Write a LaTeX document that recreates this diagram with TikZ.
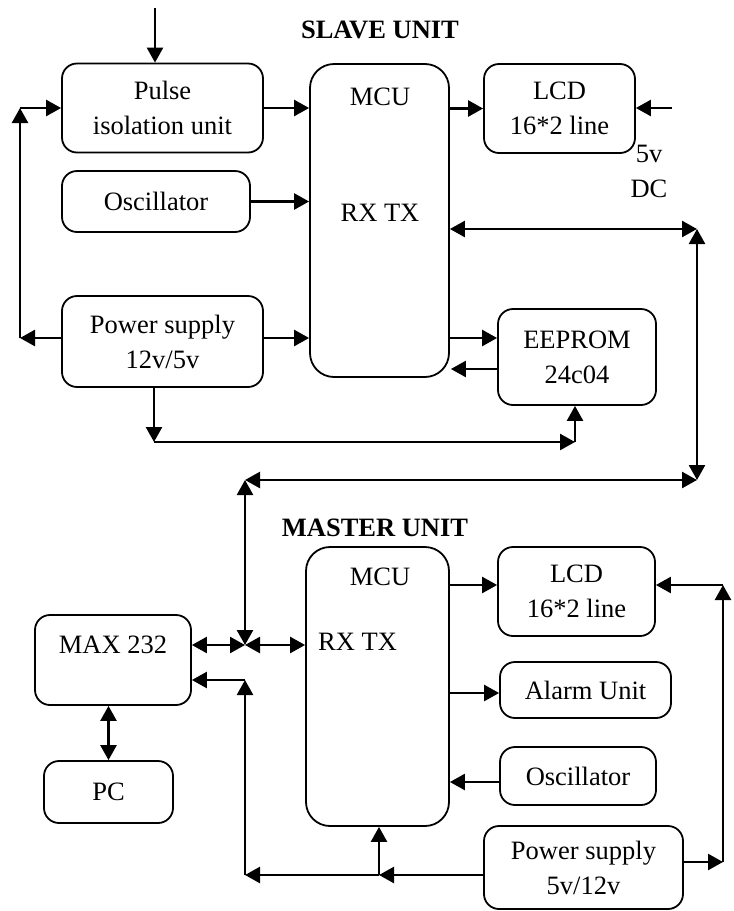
\documentclass[tikz,border=0pt]{standalone}
\usepackage{fontspec}
\setmainfont{Liberation Serif}
\usetikzlibrary{arrows.meta,calc}
\begin{document}
\begin{tikzpicture}[x=1pt,y=-1pt,
  box/.style={draw,line width=1.8pt,rounded corners=15pt,inner sep=0pt,align=center,
    font=\fontsize{26.5}{35}\selectfont},
  bigbox/.style={box,rounded corners=24pt},
  lbl/.style={inner sep=0pt,font=\fontsize{26.5}{35}\selectfont,align=center},
  ttl/.style={inner sep=0pt,font=\fontsize{26.5}{35}\selectfont\bfseries},
  arr/.style={line width=2.5pt,-{Triangle[length=15pt,width=16pt]}},
  darr/.style={line width=2.5pt,{Triangle[length=15pt,width=16pt]}-{Triangle[length=15pt,width=16pt]}},
  ln/.style={line width=2.5pt}]
\useasboundingbox (0,0) rectangle (734,911);
% ---------- SLAVE ----------
\node[ttl] (tS) at (380,30) {SLAVE UNIT};
\node[box,minimum width=201pt,minimum height=89pt] (pulse) at (162.5,108) {Pulse\\isolation unit};
\node[bigbox,minimum width=139pt,minimum height=313pt] (mcuS) at (379.5,220.5) {};
\node[lbl] (mcuSt) at (380,97) {MCU};
\node[lbl] (rxS) at (380,213) {RX TX};
\node[box,minimum width=188pt,minimum height=61pt] (osc) at (156,201.5) {Oscillator};
\node[box,minimum width=151pt,minimum height=89pt] (lcdS) at (559.5,108.5) {LCD\\16*2 line};
\node[box,minimum width=201pt,minimum height=91pt] (pwrS) at (162.5,341.5) {Power supply\\12v/5v};
\node[box,minimum width=158pt,minimum height=96pt] (eep) at (577,357) {EEPROM\\24c04};
\node[lbl] (dc) at (649,171) {5v\\DC};
\coordinate (topin) at (155,8);
\coordinate (L1) at (20,338);
\coordinate (L2) at (20,108);
\coordinate (vin) at (672,108);
\coordinate (P1) at (154,442);
\coordinate (P2) at (575,442);
\coordinate (B1) at (697,229);
\coordinate (B2) at (697,480);
\coordinate (B3) at (245,480);
\coordinate (J) at (245,645);
\draw[arr] (topin) -- (topin |- pulse.north);
\draw[arr] (pulse.east) -- (pulse.east -| mcuS.west);
\draw[arr] (osc.east) -- (osc.east -| mcuS.west);
\draw[arr] (pwrS.east |- L1) -- (L1 -| mcuS.west);
\draw[arr] (pwrS.west |- L1) -- (L1);
\draw[arr] (L1) -- (L2);
\draw[arr] (L2) -- (L2 -| pulse.west);
\draw[arr] (mcuS.east |- lcdS.west) -- (lcdS.west);
\draw[arr] (vin) -- (vin -| lcdS.east);
\draw[arr] (mcuS.east |- 0,338) -- (eep.west |- 0,338);
\draw[arr] (eep.west |- 0,369) -- ($(mcuS.east |- 0,369)+(1,0)$);
\draw[arr] (P1 |- pwrS.south) -- (P1);
\draw[arr] (P1) -- (P2);
\draw[arr] (P2) -- (P2 |- eep.south);
\draw[darr] (mcuS.east |- B1) -- (B1);
\draw[darr] (B1) -- (B2);
\draw[darr] (B3) -- (B2);
\draw[darr] (B3) -- (J);
% ---------- MASTER ----------
\node[ttl] (tM) at (375,528) {MASTER UNIT};
\node[bigbox,minimum width=143pt,minimum height=279pt] (mcuM) at (377.5,686.5) {};
\node[lbl] (mcuMt) at (380,577) {MCU};
\node[lbl,anchor=west] (rxM) at (318,642) {RX TX};
\node[box,minimum width=157pt,minimum height=89pt] (lcdM) at (576.5,591.5) {LCD\\16*2 line};
\node[box,minimum width=171pt,minimum height=56pt] (alarm) at (585.5,690) {Alarm Unit};
\node[box,minimum width=156pt,minimum height=58pt] (oscM) at (578,776) {Oscillator};
\node[box,minimum width=199pt,minimum height=83pt] (pwrM) at (583.5,867.5) {Power supply\\5v/12v};
\node[box,minimum width=156pt,minimum height=90pt,text height=0pt] (max) at (113,660) {};
\node[lbl] (maxt) at (113,645) {MAX 232};
\node[box,minimum width=129pt,minimum height=62pt] (pc) at (108.5,792) {PC};
\coordinate (R1) at (723,862);
\coordinate (R2) at (723,585);
\coordinate (Q1) at (379,875);
\coordinate (Q2) at (245,875);
\coordinate (Q3) at (245,680);
\draw[arr] (mcuM.east |- R2) -- (lcdM.west |- R2);
\draw[arr] (R1) -- (R2);
\draw[arr] (R2) -- (R2 -| lcdM.east);
\draw[arr] (pwrM.east |- R1) -- (R1);
\draw[arr] (mcuM.east |- 0,693) -- (alarm.west |- 0,693);
\draw[arr] (oscM.west |- 0,782) -- (mcuM.east |- 0,782);
\draw[arr] (pwrM.west |- Q1) -- (Q1);
\draw[arr] (Q1) -- (Q2);
\draw[arr] (Q1) -- (Q1 |- mcuM.south);
\draw[arr] (Q2) -- (Q3);
\draw[arr] (Q3) -- (Q3 -| max.east);
\draw[darr] (max.east |- J) -- (J);
\draw[darr] (J) -- (J -| mcuM.west);
\draw[darr] (pc.north |- max.south) -- (pc.north);
\end{tikzpicture}
\end{document}
